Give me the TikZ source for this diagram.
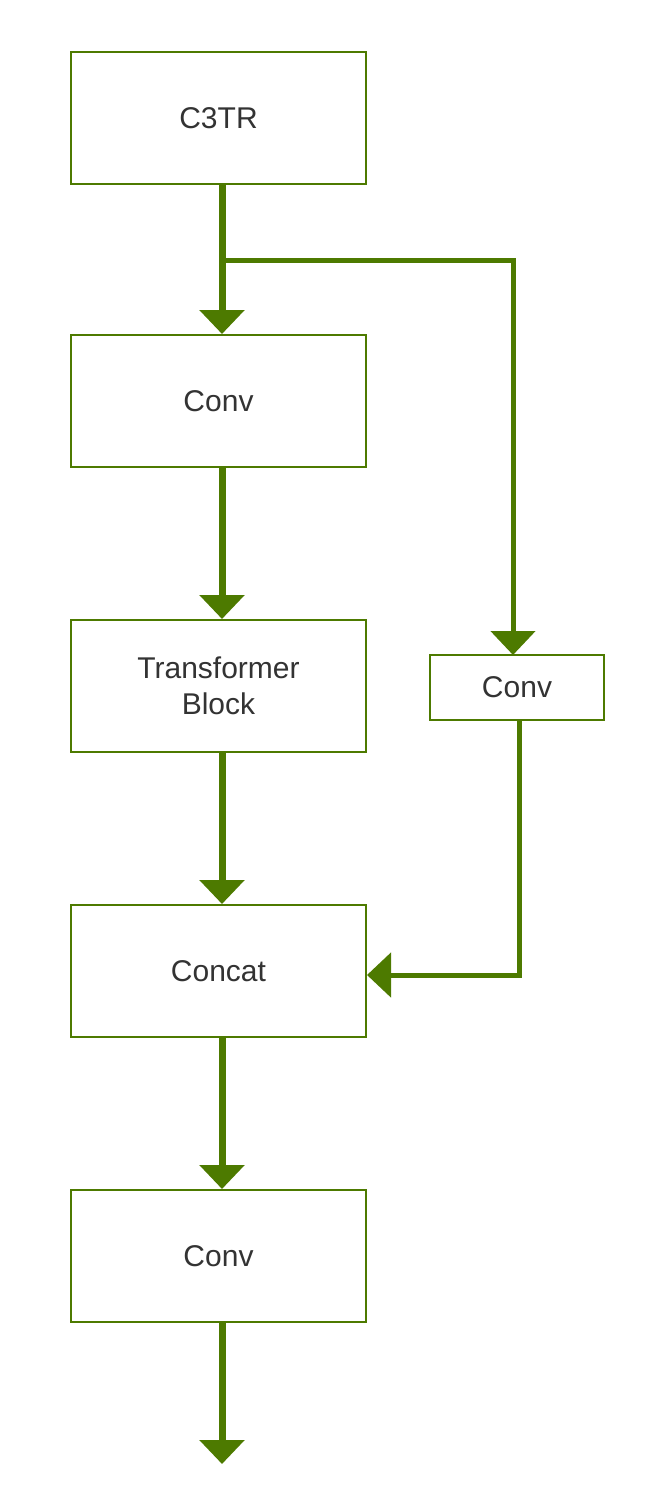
\documentclass[tikz,border=0pt]{standalone}
\usepackage{fontspec}
\setmainfont{Liberation Sans}
\usetikzlibrary{arrows.meta}
\definecolor{g}{RGB}{77,122,0}
\begin{document}
\begin{tikzpicture}[x=1pt,y=-1pt,
box/.style={draw=g,line width=2pt,fill=white,inner sep=0pt,font=\fontsize{30}{36}\selectfont,text=black!80,align=center},
arr/.style={draw=g,line width=7pt,-{Triangle[width=44pt,length=24pt]}}]
\useasboundingbox (0,0) rectangle (653,1490);
\node[box,minimum width=295pt,minimum height=132pt] (c3) at (218.5,118) {C3TR};
\node[box,minimum width=295pt,minimum height=132pt] (cv1) at (218.5,401) {Conv};
\node[box,minimum width=295pt,minimum height=132pt] (tb) at (218.5,686) {Transformer\\Block};
\node[box,minimum width=295pt,minimum height=132pt] (cc) at (218.5,971) {Concat};
\node[box,minimum width=295pt,minimum height=132pt] (cv2) at (218.5,1256) {Conv};
\node[box,minimum width=174pt,minimum height=65pt] (cs) at (517,687.5) {Conv};
\coordinate (br) at (222,260);
\coordinate (out) at (222,1464);
\draw[arr] (222,184) -- (cv1.north -| br);
\draw[arr] (cv1.south -| br) -- (tb.north -| br);
\draw[arr] (tb.south -| br) -- (cc.north -| br);
\draw[arr] (cc.south -| br) -- (cv2.north -| br);
\draw[arr] (cv2.south -| br) -- (out);
\draw[arr,line width=5pt] (br) -- (513,260) -- (513,655);
\draw[arr,line width=5pt] (519,720) -- (519,975) -- (cc.east |- 0,975);
\end{tikzpicture}
\end{document}
